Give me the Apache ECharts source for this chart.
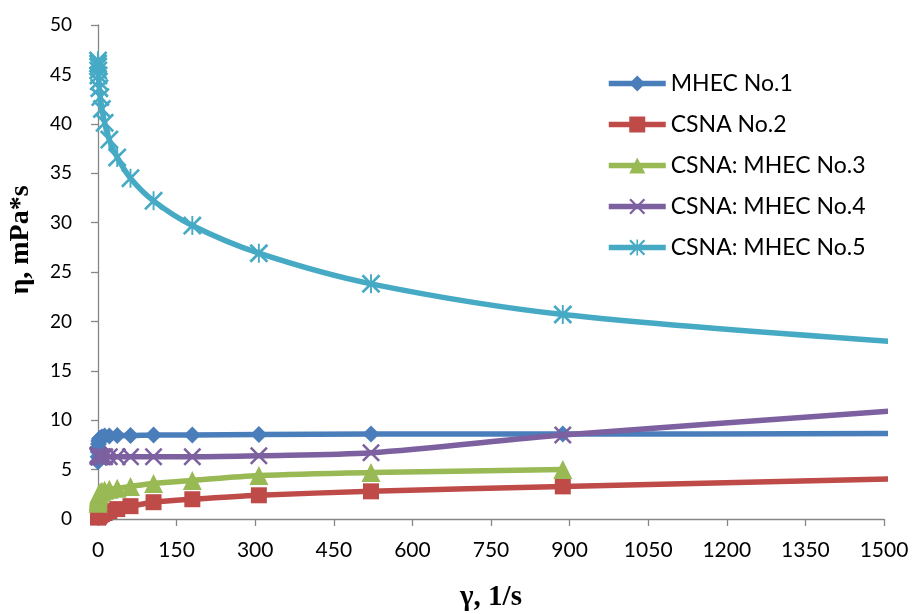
<!DOCTYPE html>
<html><head><meta charset="utf-8">
<script src="https://cdn.jsdelivr.net/npm/echarts@6/dist/echarts.min.js"></script>
<style>html,body{margin:0;padding:0;background:#fff}#c{width:912px;height:614px}</style>
</head><body><div id="c"></div>
<script>
// shear rate, 1/s (last point lies beyond axis max and is clipped)
const shearRate = [0.11, 0.18, 0.31, 0.53, 0.9, 1.5, 2.6, 4.4, 7.5, 12.7, 21.6, 36.7, 62, 106, 180, 307, 521, 887, 1508];
const mhec1     = [5.8, 6.3, 6.8, 7.2, 7.6, 7.9, 8.1, 8.2, 8.3, 8.4, 8.4, 8.45, 8.45, 8.5, 8.5, 8.55, 8.6, 8.6, 8.65];
const csna2     = [0.15, 0.18, 0.2, 0.22, 0.25, 0.3, 0.35, 0.4, 0.5, 0.6, 0.8, 1.0, 1.3, 1.7, 2.0, 2.4, 2.8, 3.3, 4.05];
const mix3      = [1.6, 1.8, 1.9, 2.1, 2.3, 2.5, 2.6, 2.7, 2.8, 2.9, 3.0, 3.1, 3.3, 3.6, 3.9, 4.4, 4.7, 5.0, null];
const mix4      = [6.5, 6.4, 6.4, 6.3, 6.3, 6.3, 6.3, 6.3, 6.3, 6.3, 6.3, 6.3, 6.3, 6.3, 6.3, 6.4, 6.7, 8.5, 10.9];
const mix5      = [46.4, 46.1, 45.8, 45.4, 44.9, 44.3, 43.6, 42.7, 41.5, 40.1, 38.4, 36.6, 34.5, 32.2, 29.7, 26.9, 23.8, 20.7, 18.0];
const seriesNames = ['MHEC No.1', 'CSNA No.2', 'CSNA: MHEC No.3', 'CSNA: MHEC No.4', 'CSNA: MHEC No.5'];
const xAxisTitle = 'γ, 1/s';
const yAxisTitle = 'η, mPa*s';
const xTickStep = 150, xMax = 1500;
const yTickStep = 5, yMax = 50;

const colors = ['#4A7EBB', '#BE4B48', '#98B954', '#7D60A0', '#46AAC5'];
const xPath = 'path://M0,1.4 L1.4,0 L7,5.6 L12.6,0 L14,1.4 L8.4,7 L14,12.6 L12.6,14 L7,8.4 L1.4,14 L0,12.6 L5.6,7 Z';
const starPath = 'path://M0,1.4 L1.4,0 L7,5.6 L12.6,0 L14,1.4 L8.4,7 L14,12.6 L12.6,14 L7,8.4 L1.4,14 L0,12.6 L5.6,7 Z M6.3,0 L7.7,0 L7.7,14 L6.3,14 Z';
const symbols = ['diamond', 'rect', 'triangle', xPath, starPath];
const symSizes = [17, 16, 19, 18, 19];
const allVals = [mhec1, csna2, mix3, mix4, mix5];

const series = allVals.map((vals, k) => ({
  name: seriesNames[k],
  type: 'line',
  smooth: 0.3,
  symbol: symbols[k],
  symbolSize: symSizes[k],
  showAllSymbol: true,
  clip: true,
  z: 2 + k,
  lineStyle: { color: colors[k], width: 5.5 },
  itemStyle: { color: colors[k] },
  emphasis: { disabled: true },
  data: shearRate.map((x, i) => [x, vals[i]]).filter(p => p[1] !== null)
}));

const chart = echarts.init(document.getElementById('c'), null, { renderer: 'canvas' });
chart.setOption({
  animation: false,
  backgroundColor: '#fff',
  color: colors,
  grid: { left: 98, right: 28, top: 25, bottom: 95, containLabel: false },
  legend: {
    orient: 'vertical', left: 606, top: 72, padding: 0,
    itemWidth: 57, itemHeight: 20, itemGap: 18,
    lineStyle: { width: 5.5 },
    textStyle: { fontFamily: 'Lato', fontSize: 23, color: '#000', lineHeight: 20, padding: [0,0,0,0] },
    data: seriesNames
  },
  xAxis: {
    type: 'value', min: 0, max: xMax, interval: xTickStep,
    axisLine: { show: true, onZero: false, lineStyle: { color: '#868686', width: 1.3 } },
    axisTick: { show: true, inside: false, length: 7, lineStyle: { color: '#868686', width: 1.3 } },
    axisLabel: { fontFamily: 'Lato', fontSize: 21, color: '#000', margin: 21, formatter: v => String(v) },
    splitLine: { show: false }
  },
  yAxis: {
    type: 'value', min: 0, max: yMax, interval: yTickStep,
    axisLine: { show: true, onZero: false, lineStyle: { color: '#868686', width: 1.3 } },
    axisTick: { show: true, inside: false, length: 7, lineStyle: { color: '#868686', width: 1.3 } },
    axisLabel: { fontFamily: 'Lato', fontSize: 19, color: '#000', margin: 26, formatter: v => String(v) },
    splitLine: { show: false }
  },
  graphic: [
    { type: 'text', x: 21, y: 240, rotation: Math.PI / 2,
      style: { text: yAxisTitle, fontFamily: 'Liberation Serif', fontWeight: 'bold', fontSize: 28, fill: '#000', align: 'center', verticalAlign: 'middle' } },
    { type: 'text', x: 491, y: 598,
      style: { text: xAxisTitle, fontFamily: 'Liberation Serif', fontWeight: 'bold', fontSize: 29, fill: '#000', align: 'center', verticalAlign: 'middle' } }
  ],
  series: series
});
</script>
</body></html>
